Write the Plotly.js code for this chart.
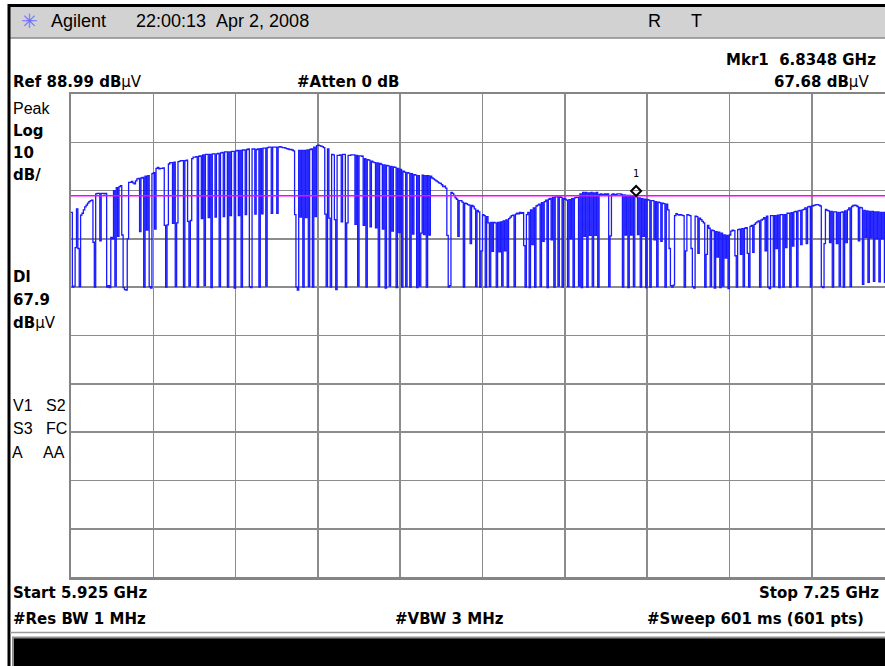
<!DOCTYPE html>
<html><head><meta charset="utf-8">
<script src="https://cdn.plot.ly/plotly-3.0.1.min.js"></script>
<style>html,body{margin:0;padding:0;background:#fff;overflow:hidden;width:885px;height:666px}#chart{width:894px;height:666px}</style>
</head><body><div id="chart"></div>
<script>
// ---- instrument settings / readouts ----
const startGHz = 5.925;
const stopGHz = 7.25;
const numPts = 601;
const refLevel = 88.99;
const dbPerDiv = 10;
const numDivs = 10;
const displayLine = 67.9;
const mkrFreq = 6.8348;
const mkrLevel = 67.68;
const attenDb = 0;
const resBwMHz = 1;
const vbwMHz = 3;
const sweepMs = 601;
const timeStamp = "22:00:13\u00a0\u00a0Apr 2, 2008";

// ---- trace (dBuV), 601 points ----
const traceDbuV = [
64.5,49.0,49.2,57.2,65.2,57.0,49.1,63.9,64.3,65.0,65.6,66.0,66.4,66.7,66.9,67.0,58.3,49.0,68.3,68.4,
68.4,58.6,68.4,68.4,68.3,68.4,49.0,49.3,48.9,59.3,59.0,69.0,49.2,69.6,59.5,69.8,70.0,59.8,48.9,48.5,
48.4,59.0,70.7,70.7,70.9,70.6,70.4,71.0,71.4,71.5,60.5,71.6,71.7,49.0,72.0,60.8,72.1,49.1,48.8,72.5,
72.7,61.0,73.6,73.8,73.5,73.6,73.6,73.7,61.8,49.0,61.9,74.5,74.8,74.8,62.2,74.9,49.1,62.3,75.0,75.1,
75.2,75.2,49.0,75.2,75.3,62.6,49.2,62.8,75.6,75.9,75.9,76.0,49.0,76.1,76.2,63.2,76.4,49.3,76.5,76.5,
63.4,76.5,48.9,76.6,76.6,63.5,76.6,76.7,49.1,76.8,76.9,63.6,77.0,77.0,49.0,77.0,63.8,77.1,77.1,48.8,
77.2,77.3,63.8,77.3,49.0,77.4,77.4,64.0,77.5,77.6,49.1,48.9,77.6,77.6,64.1,77.5,77.6,49.0,77.7,64.2,
77.8,77.8,49.2,77.9,78.0,78.0,64.3,78.0,78.0,78.0,64.3,78.0,78.1,78.0,77.9,77.9,77.8,77.7,77.6,77.5,
77.5,77.4,77.2,64.0,49.0,48.4,77.3,63.5,77.3,49.0,77.3,63.4,77.4,49.1,77.5,77.6,49.0,78.0,63.6,78.3,
78.4,78.3,78.2,78.1,77.9,64.1,49.1,77.6,63.3,49.0,76.5,76.4,63.0,48.5,76.3,76.3,76.4,62.5,76.5,76.5,
49.0,62.3,76.3,76.3,76.4,76.4,76.4,62.0,76.3,49.2,76.2,76.2,76.1,61.8,75.6,49.0,75.4,75.3,61.5,75.1,
74.9,74.8,61.3,74.7,49.1,74.6,74.4,61.0,74.3,48.8,74.2,74.1,49.2,74.0,60.6,73.9,73.8,48.9,73.6,60.3,
73.4,49.0,73.0,72.8,49.1,72.7,72.6,49.0,72.5,60.0,72.3,72.2,48.9,72.1,49.2,60.2,72.2,59.9,72.1,49.0,
72.1,59.8,72.0,71.6,71.4,71.2,71.0,70.8,70.6,70.5,70.2,69.8,69.9,69.5,59.7,49.0,49.3,68.6,68.4,68.0,
67.5,67.2,59.5,66.9,66.9,66.6,49.0,66.4,66.3,66.1,66.0,58.0,65.9,65.7,65.2,49.1,64.9,64.6,49.0,56.5,
64.0,63.8,49.0,63.6,62.3,49.1,62.4,56.4,62.4,62.3,49.0,62.4,56.3,62.5,49.2,62.7,56.5,62.9,49.0,63.2,
63.5,63.8,63.9,49.1,64.1,64.3,64.2,64.5,64.3,64.4,57.6,49.0,64.0,64.5,48.9,65.0,57.8,65.4,49.0,65.8,
66.0,66.2,49.1,66.5,58.5,66.7,67.0,48.9,67.2,67.4,58.8,67.6,49.0,67.7,67.7,49.2,67.7,67.6,49.0,67.4,
67.2,67.0,49.1,67.1,59.0,67.3,49.0,67.5,67.6,67.6,49.2,68.3,48.9,68.6,59.5,68.6,49.0,68.5,59.7,68.6,
49.1,68.5,59.7,68.6,49.0,68.2,68.3,68.2,68.2,68.3,68.2,68.3,49.1,59.6,68.2,68.3,68.2,68.2,68.3,68.3,
68.3,68.2,49.0,68.1,59.8,68.0,48.9,68.0,59.8,67.9,49.1,67.8,67.7,59.9,67.5,49.0,67.3,59.5,67.2,48.9,
67.1,67.0,49.0,66.9,66.9,58.8,66.7,49.1,66.6,66.5,58.5,66.4,66.3,49.0,66.2,65.0,57.0,49.3,49.0,49.4,
63.8,64.2,64.0,63.9,64.0,63.9,63.8,49.0,56.5,64.0,63.9,63.8,57.0,49.1,48.8,63.7,63.6,56.0,63.3,63.0,
62.6,62.3,49.0,55.8,61.8,61.2,49.1,60.8,60.7,48.8,60.5,55.2,60.4,48.9,60.2,49.2,59.8,55.0,59.7,48.7,
59.8,60.6,60.8,60.7,55.5,49.0,60.9,61.0,55.8,61.1,49.1,61.2,61.3,56.0,49.0,61.6,61.8,56.2,62.0,62.3,
62.5,62.7,49.0,62.9,63.1,63.4,56.5,63.7,49.0,48.7,63.8,63.8,49.1,63.8,57.0,63.9,48.9,64.0,64.0,49.0,
64.0,57.2,64.3,64.3,49.0,64.4,57.5,64.6,64.7,49.1,64.8,64.9,57.8,65.0,65.1,65.4,58.0,65.6,65.7,49.0,
65.8,65.9,66.0,66.1,66.1,66.0,65.8,49.1,48.9,58.0,65.1,64.9,64.8,58.2,64.7,49.0,64.6,64.6,58.0,64.5,
49.2,64.5,64.6,49.0,64.8,58.2,65.0,65.4,49.1,65.7,65.9,66.0,65.9,65.7,58.6,65.5,65.4,49.6,64.9,59.3,
64.8,50.0,64.7,59.2,64.7,50.2,64.6,59.0,64.6,50.1,64.5,59.0,64.5,50.0,64.5,59.0,64.4,50.0,64.4,59.1,
64.5
];

// sweep frequency grid (601 evenly spaced points from start to stop)
const freqGHz = traceDbuV.map((_, i) => startGHz + i * (stopGHz - startGHz) / (numPts - 1));

// ---- geometry ----
const L = 71, T = 94, PW = 823, PH = 483;
const px = x => (x - L) / PW;
const py = y => (T + PH - y) / PH;

const BOLD = {family: 'DejaVu Sans', size: 15, color: '#000', weight: 'bold'};
const REG = {family: 'Liberation Sans, Arial', size: 16, color: '#000'};
const HEAD = {family: 'Liberation Sans, Arial', size: 18, color: '#000'};

function lab(text, x, y, anchor, font) {
  return {text: text, xref: 'paper', yref: 'paper', x: px(x), y: py(y),
          xanchor: anchor, yanchor: 'middle', showarrow: false, font: font, borderpad: 0};
}
const mu = '<span style="font-weight:normal">\u03bcV</span>';

const annotations = [
  lab('\u2733', 29, 21, 'center', {family: 'DejaVu Sans', size: 20, color: '#7070ff'}),
  lab('Agilent', 50, 21, 'left', HEAD),
  lab(timeStamp, 135, 21, 'left', HEAD),
  lab('R', 647, 21, 'left', HEAD),
  lab('T', 690, 21, 'left', HEAD),
  lab('Mkr1\u00a0\u00a0' + mkrFreq.toFixed(4) + ' GHz', 877, 60, 'right', BOLD),
  lab(mkrLevel.toFixed(2) + ' dB' + mu, 870, 82, 'right', BOLD),
  lab('Ref ' + refLevel.toFixed(2) + ' dB' + mu, 12, 82, 'left', BOLD),
  lab('#Atten ' + attenDb + ' dB', 296, 82, 'left', BOLD),
  lab('Peak', 12, 109, 'left', REG),
  lab('Log', 12, 131, 'left', BOLD),
  lab(String(dbPerDiv), 12, 153, 'left', BOLD),
  lab('dB/', 12, 175, 'left', BOLD),
  lab('Dl', 12, 277, 'left', BOLD),
  lab(displayLine.toFixed(1), 12, 300, 'left', BOLD),
  lab('dB' + mu, 12, 323, 'left', BOLD),
  lab('V1', 12, 405, 'left', REG), lab('S2', 45, 405, 'left', REG),
  lab('S3', 12, 428, 'left', REG), lab('FC', 45, 428, 'left', REG),
  lab('A', 11, 452, 'left', REG), lab('AA', 42, 452, 'left', REG),
  lab('Start ' + startGHz.toFixed(3) + ' GHz', 12, 593, 'left', BOLD),
  lab('Stop ' + stopGHz.toFixed(2) + ' GHz', 880, 593, 'right', BOLD),
  lab('#Res BW ' + resBwMHz + ' MHz', 12, 619, 'left', BOLD),
  lab('#VBW ' + vbwMHz + ' MHz', 505, 619, 'right', BOLD),
  lab('#Sweep ' + sweepMs + ' ms (' + numPts + ' pts)', 865, 619, 'right', BOLD),
  {text: '1', xref: 'x', yref: 'y', x: mkrFreq, y: mkrLevel, yshift: 23, showarrow: false,
   font: {family: 'DejaVu Sans Mono', size: 10, color: '#000'}}
];

const shapes = [
  // header bar
  {type: 'rect', xref: 'paper', yref: 'paper', x0: px(9), x1: px(900), y0: py(38), y1: py(7),
   fillcolor: '#d2d2d2', line: {width: 0}},
  {type: 'line', xref: 'paper', yref: 'paper', x0: px(9), x1: px(900), y0: py(38), y1: py(38),
   line: {color: '#8a8a8a', width: 1.5}},
  {type: 'line', xref: 'paper', yref: 'paper', x0: px(8), x1: px(900), y0: py(5.5), y1: py(5.5),
   line: {color: '#000', width: 3}},
  {type: 'line', xref: 'paper', yref: 'paper', x0: px(9), x1: px(9), y0: py(4), y1: py(670),
   line: {color: '#000', width: 3}},
  // footer bar
  {type: 'line', xref: 'paper', yref: 'paper', x0: px(10), x1: px(900), y0: py(632.5), y1: py(632.5),
   line: {color: '#9a9a9a', width: 1.5}},
  {type: 'rect', xref: 'paper', yref: 'paper', x0: px(13), x1: px(900), y0: py(670), y1: py(637.5),
   fillcolor: '#000', line: {color: '#8f8f8f', width: 2}},
  // display line
  {type: 'line', xref: 'paper', yref: 'y', x0: 0, x1: 1, y0: displayLine, y1: displayLine,
   line: {color: '#ff00ff', width: 1.5}},
  // marker diamond
  {type: 'path', xref: 'x', yref: 'y', xsizemode: 'pixel', ysizemode: 'pixel',
   xanchor: mkrFreq, yanchor: mkrLevel, path: 'M0,1 L5,6 L0,11 L-5,6 Z',
   line: {color: '#000', width: 2}}
];

const data = [{
  type: 'scatter', mode: 'lines', x: freqGHz, y: traceDbuV,
  line: {color: '#1a1aff', width: 1.3, shape: 'hv'}, hoverinfo: 'skip'
}];

const layout = {
  width: 894, height: 666,
  margin: {l: L, r: 0, t: T, b: 666 - T - PH, pad: 0},
  paper_bgcolor: '#fff', plot_bgcolor: '#fff',
  showlegend: false, hovermode: false,
  xaxis: {range: [startGHz, stopGHz], tick0: startGHz, dtick: (stopGHz - startGHz) / numDivs,
          showgrid: true, gridcolor: '#8c8c8c', gridwidth: 1.6, zeroline: false,
          showticklabels: false, ticks: '', showline: true, linecolor: '#858585', linewidth: 2.5, mirror: true},
  yaxis: {range: [refLevel - dbPerDiv * numDivs, refLevel], tick0: refLevel, dtick: dbPerDiv,
          showgrid: true, gridcolor: '#8c8c8c', gridwidth: 1.6, zeroline: false,
          showticklabels: false, ticks: '', showline: true, linecolor: '#858585', linewidth: 2.5, mirror: true},
  annotations: annotations,
  shapes: shapes
};

Plotly.newPlot('chart', data, layout, {staticPlot: true, displayModeBar: false});
</script>
</body></html>
